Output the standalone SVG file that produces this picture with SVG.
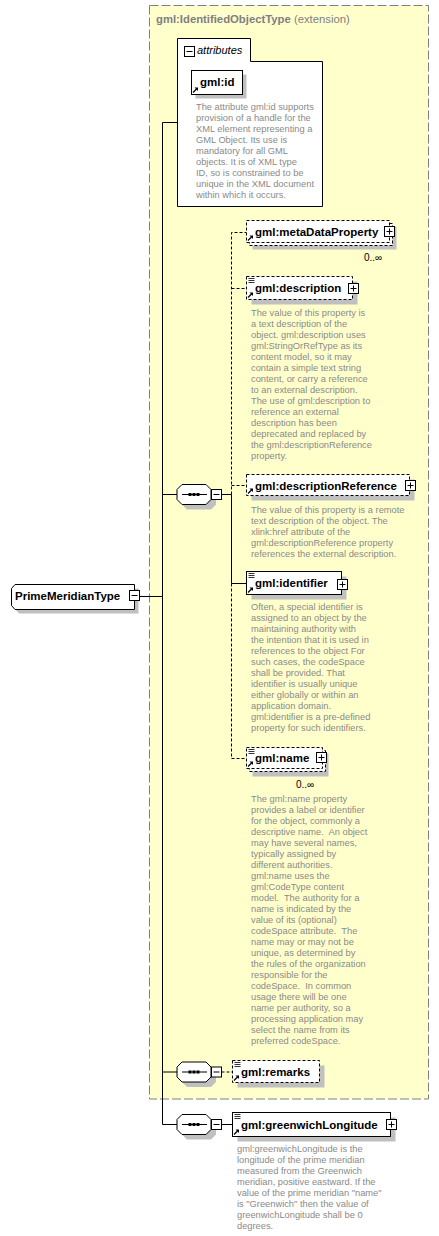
<svg xmlns="http://www.w3.org/2000/svg" xmlns:xlink="http://www.w3.org/1999/xlink" width="439" height="1236" viewBox="0 0 439 1236">
<style>
.lbl{font-family:"Liberation Sans",Arial,sans-serif;font-weight:bold;font-size:11.5px;fill:#000}
.doc{font-family:"Liberation Sans",Arial,sans-serif;font-size:9.3px;fill:#8a8a8a;white-space:pre}
.occ{font-family:"Liberation Sans",Arial,sans-serif;font-size:10px;fill:#000}
.box{fill:#fff;stroke:#000;stroke-width:1}
.dbox{fill:#fff;stroke:#000;stroke-width:1;stroke-dasharray:3,2}
.sh{fill:#c0c0c0}
.ln{stroke:#000;stroke-width:1;fill:none}
.dln{stroke:#000;stroke-width:1;fill:none;stroke-dasharray:3,2}
</style>
<defs>
<g id="plus"><rect x="0" y="0" width="10" height="10" class="box"/><path d="M2,5H8M5,2V8" class="ln"/></g>
<g id="minus"><rect x="0" y="0" width="10" height="10" class="box"/><path d="M2,5H8" class="ln"/></g>
<g id="ref"><path d="M0,0L4,-4" stroke="#000" stroke-width="1.2"/><path d="M1.5,-5H5V-1.5Z" fill="#000"/></g>
<g id="docic"><path d="M0,0.5H6M0,2.5H6M0,4.5H6" stroke="#000" stroke-width="0.8"/></g>
<g id="seq"><polygon points="10,5 34,5 39,10 39,20 34,25 10,25 5,20 5,10" class="sh"/><polygon points="5,0 29,0 34,5 34,15 29,20 5,20 0,15 0,5" class="box"/><path d="M5,10H30" class="ln"/><rect x="11.5" y="8.5" width="3" height="3" fill="#000"/><rect x="15.5" y="8.5" width="3" height="3" fill="#000"/><rect x="19.5" y="8.5" width="3" height="3" fill="#000"/></g>
</defs>

<g id="extension">
<rect x="149.5" y="5.5" width="279" height="1093.5" fill="#ffffcc" stroke="#808080" stroke-dasharray="9,3"/>
<text x="156" y="23" font-family="Liberation Sans,Arial,sans-serif" font-size="11.3" fill="#808080"><tspan font-weight="bold">gml:IdentifiedObjectType</tspan> (extension)</text>
</g>

<g id="connectors">
<path d="M140,596.5H162.5M162.5,122.5V1124.5M162.5,122.5H177.5" class="ln"/>
<path d="M162.5,494.5H177M221.5,494.5H231.5M231.5,494.5V583.5M231.5,583.5H246.5" class="ln"/>
<path d="M231.5,494.5V232.5H246.5M231.5,288.5H246.5M231.5,485.5H246.5M231.5,583.5V758.5H246.5" class="dln"/>
<path d="M162.5,1072H177M162.5,1124.5H177" class="ln"/>
<path d="M221.5,1072H232.5" class="dln"/>
<path d="M221.5,1124.5H232.5" class="ln"/>
</g>

<g id="attributes">
<path d="M177.5,38.5H250.5V61.5H322.5V206.5H177.5Z" class="box"/>
<use href="#minus" x="184.5" y="46.5"/>
<text x="197" y="54" font-family="Liberation Sans,Arial,sans-serif" font-style="italic" font-size="11" fill="#000">attributes</text>
</g>

<g id="gml-id">
<rect x="195.5" y="74.5" width="51" height="24" class="sh"/>
<rect x="191.5" y="70.5" width="51" height="24" class="box"/>
<text x="200" y="86" class="lbl" font-size="11.3">gml:id</text>
<use href="#ref" x="193" y="92.5"/>
<text class="doc"><tspan x="196" y="110">The attribute gml:id supports</tspan><tspan x="196" y="121">provision of a handle for the</tspan><tspan x="196" y="132">XML element representing a</tspan><tspan x="196" y="143">GML Object. Its use is</tspan><tspan x="196" y="154">mandatory for all GML</tspan><tspan x="196" y="165">objects. It is of XML type</tspan><tspan x="196" y="176">ID, so is constrained to be</tspan><tspan x="196" y="187">unique in the XML document</tspan><tspan x="196" y="198">within which it occurs.</tspan></text>
</g>

<g id="PrimeMeridianType">
<path d="M19,588.5H138.5V613.5H19L15.5,609.5V592.5Z" class="sh"/>
<path d="M15,584.5H134.5V609.5H15L11.5,605.5V588.5Z" class="box"/>
<text x="15" y="600" class="lbl" font-size="11.4">PrimeMeridianType</text>
<use href="#minus" x="129.5" y="590.5"/>
</g>

<g id="sequence1">
<use href="#seq" x="177" y="484.5"/>
<use href="#minus" x="211.5" y="489.5"/>
</g>

<g id="metaDataProperty">
<rect x="252.5" y="226.5" width="144" height="23" class="sh"/>
<rect x="249.5" y="223.5" width="143" height="22" class="dbox"/>
<rect x="246.5" y="220.5" width="143" height="22" class="dbox"/>
<text x="255" y="236" class="lbl">gml:metaDataProperty</text>
<use href="#plus" x="384.5" y="226.5"/>
<use href="#ref" x="248" y="240.5"/>
<text x="364" y="261" class="occ">0..∞</text>
</g>

<g id="description">
<rect x="251.5" y="281.5" width="106" height="23" class="sh"/>
<rect x="246.5" y="276.5" width="106" height="23" class="dbox"/>
<use href="#docic" x="248.5" y="278"/>
<text x="255" y="292" class="lbl">gml:description</text>
<use href="#plus" x="348.5" y="283.5"/>
<use href="#ref" x="248" y="297.5"/>
<text class="doc"><tspan x="251" y="316">The value of this property is</tspan><tspan x="251" y="327">a text description of the</tspan><tspan x="251" y="338">object. gml:description uses</tspan><tspan x="251" y="349">gml:StringOrRefType as its</tspan><tspan x="251" y="360">content model, so it may</tspan><tspan x="251" y="371">contain a simple text string</tspan><tspan x="251" y="382">content, or carry a reference</tspan><tspan x="251" y="393">to an external description.</tspan><tspan x="251" y="404">The use of gml:description to</tspan><tspan x="251" y="415">reference an external</tspan><tspan x="251" y="426">description has been</tspan><tspan x="251" y="437">deprecated and replaced by</tspan><tspan x="251" y="448">the gml:descriptionReference</tspan><tspan x="251" y="459">property.</tspan></text>
</g>

<g id="descriptionReference">
<rect x="251.5" y="479.5" width="163" height="21" class="sh"/>
<rect x="246.5" y="474.5" width="163" height="21" class="dbox"/>
<text x="255" y="490" class="lbl">gml:descriptionReference</text>
<use href="#plus" x="405.5" y="480.5"/>
<use href="#ref" x="248" y="493.5"/>
<text class="doc"><tspan x="251" y="513">The value of this property is a remote</tspan><tspan x="251" y="524">text description of the object. The</tspan><tspan x="251" y="535">xlink:href attribute of the</tspan><tspan x="251" y="546">gml:descriptionReference property</tspan><tspan x="251" y="557">references the external description.</tspan></text>
</g>

<g id="identifier">
<rect x="251.5" y="576.5" width="95" height="23" class="sh"/>
<rect x="246.5" y="571.5" width="95" height="23" class="box"/>
<use href="#docic" x="248.5" y="573"/>
<text x="255" y="587" class="lbl">gml:identifier</text>
<use href="#plus" x="337.5" y="579.5"/>
<use href="#ref" x="248" y="592.5"/>
<text class="doc"><tspan x="251" y="610">Often, a special identifier is</tspan><tspan x="251" y="621">assigned to an object by the</tspan><tspan x="251" y="632">maintaining authority with</tspan><tspan x="251" y="643">the intention that it is used in</tspan><tspan x="251" y="654">references to the object For</tspan><tspan x="251" y="665">such cases, the codeSpace</tspan><tspan x="251" y="676">shall be provided. That</tspan><tspan x="251" y="687">identifier is usually unique</tspan><tspan x="251" y="698">either globally or within an</tspan><tspan x="251" y="709">application domain.</tspan><tspan x="251" y="720">gml:identifier is a pre-defined</tspan><tspan x="251" y="731">property for such identifiers.</tspan></text>
</g>

<g id="name">
<rect x="252.5" y="753.5" width="76" height="23" class="sh"/>
<rect x="249.5" y="750.5" width="76" height="21" class="dbox"/>
<rect x="246.5" y="747.5" width="76" height="21" class="dbox"/>
<use href="#docic" x="248.5" y="749"/>
<text x="255" y="762" class="lbl">gml:name</text>
<use href="#plus" x="316.5" y="752.5"/>
<use href="#ref" x="248" y="766.5"/>
<text x="296" y="788" class="occ">0..∞</text>
<text class="doc" xml:space="preserve"><tspan x="251" y="802">The gml:name property</tspan><tspan x="251" y="813">provides a label or identifier</tspan><tspan x="251" y="824">for the object, commonly a</tspan><tspan x="251" y="835">descriptive name.  An object</tspan><tspan x="251" y="846">may have several names,</tspan><tspan x="251" y="857">typically assigned by</tspan><tspan x="251" y="868">different authorities.</tspan><tspan x="251" y="879">gml:name uses the</tspan><tspan x="251" y="890">gml:CodeType content</tspan><tspan x="251" y="901">model.  The authority for a</tspan><tspan x="251" y="912">name is indicated by the</tspan><tspan x="251" y="923">value of its (optional)</tspan><tspan x="251" y="934">codeSpace attribute.  The</tspan><tspan x="251" y="945">name may or may not be</tspan><tspan x="251" y="956">unique, as determined by</tspan><tspan x="251" y="967">the rules of the organization</tspan><tspan x="251" y="978">responsible for the</tspan><tspan x="251" y="989">codeSpace.  In common</tspan><tspan x="251" y="1000">usage there will be one</tspan><tspan x="251" y="1011">name per authority, so a</tspan><tspan x="251" y="1022">processing application may</tspan><tspan x="251" y="1033">select the name from its</tspan><tspan x="251" y="1044">preferred codeSpace.</tspan></text>
</g>

<g id="sequence2">
<use href="#seq" x="177" y="1062"/>
<use href="#minus" x="211.5" y="1067"/>
</g>

<g id="remarks">
<rect x="237.5" y="1065.5" width="87" height="22" class="sh"/>
<rect x="232.5" y="1060.5" width="87" height="22" class="dbox"/>
<use href="#docic" x="234.5" y="1062"/>
<text x="241" y="1076" class="lbl">gml:remarks</text>
<use href="#ref" x="234" y="1080.5"/>
</g>

<g id="sequence3">
<use href="#seq" x="177" y="1114.5"/>
<use href="#minus" x="211.5" y="1119.5"/>
</g>

<g id="greenwichLongitude">
<rect x="237.5" y="1117.5" width="158" height="24" class="sh"/>
<rect x="232.5" y="1112.5" width="158" height="24" class="box"/>
<use href="#docic" x="234.5" y="1114"/>
<text x="241" y="1129" class="lbl">gml:greenwichLongitude</text>
<use href="#plus" x="386.5" y="1119.5"/>
<use href="#ref" x="234" y="1134.5"/>
<text class="doc"><tspan x="237" y="1152">gml:greenwichLongitude is the</tspan><tspan x="237" y="1163">longitude of the prime meridian</tspan><tspan x="237" y="1174">measured from the Greenwich</tspan><tspan x="237" y="1185">meridian, positive eastward. If the</tspan><tspan x="237" y="1196">value of the prime meridian "name"</tspan><tspan x="237" y="1207">is "Greenwich" then the value of</tspan><tspan x="237" y="1218">greenwichLongitude shall be 0</tspan><tspan x="237" y="1229">degrees.</tspan></text>
</g>
</svg>
